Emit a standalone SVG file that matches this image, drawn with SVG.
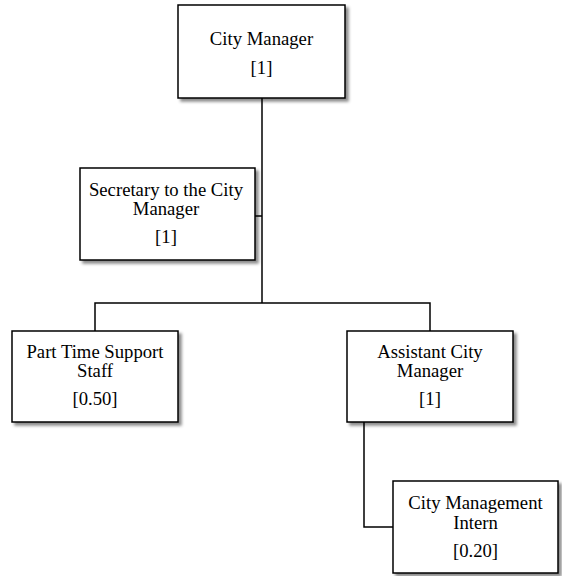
<svg xmlns="http://www.w3.org/2000/svg" width="562" height="576" viewBox="0 0 562 576">
<defs>
<filter id="sh" x="-10%" y="-10%" width="130%" height="130%">
<feDropShadow dx="3" dy="3" stdDeviation="1.5" flood-color="#000" flood-opacity="0.45"/>
</filter>
</defs>
<style>
.box{fill:#fff;stroke:#000;stroke-width:1.5;filter:url(#sh)}
.t{font-family:"Liberation Serif","Times New Roman",serif;font-size:18.7px;fill:#000;text-anchor:middle}
.c{fill:none;stroke:#000;stroke-width:1.5}
</style>
<rect width="562" height="576" fill="#fff"/>
<g id="connectors">
<path class="c" d="M262,98 V303"/>
<path class="c" d="M255,216 H262"/>
<path class="c" d="M95,331 V303 H430 V331"/>
<path class="c" d="M364,422 V527 H393"/>
</g>
<g id="city-manager">
<rect class="box" x="178" y="5" width="167" height="93"/>
<text class="t" x="261.5" y="45">City Manager</text>
<text class="t" x="261.5" y="74">[1]</text>
</g>
<g id="secretary">
<rect class="box" x="80" y="168" width="175" height="92"/>
<text class="t" x="166" y="196">Secretary to the City</text>
<text class="t" x="166" y="215">Manager</text>
<text class="t" x="166" y="243">[1]</text>
</g>
<g id="part-time">
<rect class="box" x="12" y="331" width="166" height="91"/>
<text class="t" x="95" y="358">Part Time Support</text>
<text class="t" x="95" y="377">Staff</text>
<text class="t" x="95" y="405">[0.50]</text>
</g>
<g id="assistant">
<rect class="box" x="347" y="331" width="166" height="91"/>
<text class="t" x="430" y="358">Assistant City</text>
<text class="t" x="430" y="377">Manager</text>
<text class="t" x="430" y="405">[1]</text>
</g>
<g id="intern">
<rect class="box" x="393" y="481" width="165" height="92"/>
<text class="t" x="475.5" y="509">City Management</text>
<text class="t" x="475.5" y="529">Intern</text>
<text class="t" x="475.5" y="557">[0.20]</text>
</g>
</svg>
